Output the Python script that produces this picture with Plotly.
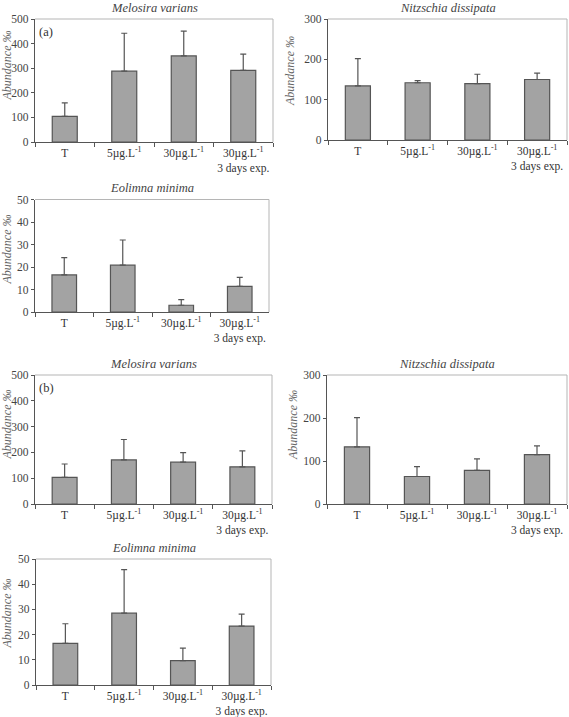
import plotly.graph_objects as go

W, H = 569, 717

categories = ["T", "5µg.L<sup>-1</sup>", "30µg.L<sup>-1</sup>", "30µg.L<sup>-1</sup><br>3 days exp."]

titles = ["Melosira varians", "Nitzschia dissipata", "Eolimna minima",
          "Melosira varians", "Nitzschia dissipata", "Eolimna minima"]
ytitle = "Abundance ‰"

# (a) panels
mel_a = [104, 288, 350, 291]
mel_a_err = [159, 442, 451, 357]
nit_a = [134, 142, 140, 150]
nit_a_err = [202, 147, 163, 166]
eol_a = [16.5, 20.8, 3.0, 11.4]
eol_a_err = [24.2, 32.0, 5.5, 15.4]
# (b) panels
mel_b = [103, 171, 162, 144]
mel_b_err = [155, 250, 199, 206]
nit_b = [133, 64, 78, 115]
nit_b_err = [201, 87, 105, 135]
eol_b = [16.5, 28.5, 9.7, 23.4]
eol_b_err = [24.3, 45.8, 14.6, 28.1]

values = [mel_a, nit_a, eol_a, mel_b, nit_b, eol_b]
tops = [mel_a_err, nit_a_err, eol_a_err, mel_b_err, nit_b_err, eol_b_err]
yranges = [[0, 500], [0, 300], [0, 50], [0, 500], [0, 300], [0, 50]]
ydticks = [100, 100, 10, 100, 100, 10]

# pixel boxes: left, right, top, bottom
boxes = [(35, 273, 19, 142), (328, 567, 19, 140), (35, 269, 199.5, 312),
         (35, 272, 375, 504), (327, 567, 375, 504), (36, 271, 559, 685)]
# y-title centre (x px, y px)
ytitle_pos = [(6.5, 66), (290, 71), (6.5, 250), (6.5, 425), (293, 425), (6.5, 614)]

SERIF = "Liberation Serif"
fig = go.Figure()
shapes = []
annotations = []
for i in range(6):
    n = i + 1
    xa = "x" if n == 1 else f"x{n}"
    ya = "y" if n == 1 else f"y{n}"
    err_plus = [t - v for t, v in zip(tops[i], values[i])]
    fig.add_trace(go.Bar(
        x=categories, y=values[i], xaxis=xa, yaxis=ya, width=0.42,
        marker=dict(color="#a3a3a3", line=dict(color="#555555", width=1.2)),
        error_y=dict(type="data", symmetric=False, array=err_plus,
                     arrayminus=[0] * 4, color="#555555", thickness=1.2, width=3),
        showlegend=False,
    ))
    l, r, t, b = boxes[i]
    xd = [l / W, r / W]
    yd = [1 - b / H, 1 - t / H]
    fig.layout[f"xaxis{n}"] = dict(
        domain=xd, anchor=ya, type="category", tickson="boundaries",
        ticks="outside", ticklen=4, tickcolor="#555555", tickangle=0,
        showline=True, linecolor="#555555", linewidth=1.2,
        showgrid=False, zeroline=False, range=[-0.5, 3.5], automargin=False,
        tickfont=dict(family=SERIF, size=11.5, color="#333333"),
    )
    fig.layout[f"yaxis{n}"] = dict(
        domain=yd, anchor=xa, range=yranges[i], dtick=ydticks[i],
        ticks="outside", ticklen=3, tickcolor="#555555",
        showline=True, linecolor="#555555", linewidth=1.2,
        showgrid=False, zeroline=False, automargin=False,
        tickfont=dict(family=SERIF, size=11.5, color="#444444"),
    )
    # light-gray top and right border
    shapes.append(dict(type="line", xref=f"{xa} domain", yref=f"{ya} domain",
                       x0=0, x1=1, y0=1, y1=1, line=dict(color="#b5b5b5", width=1)))
    shapes.append(dict(type="line", xref=f"{xa} domain", yref=f"{ya} domain",
                       x0=1, x1=1, y0=0, y1=1, line=dict(color="#b5b5b5", width=1)))
    annotations.append(dict(text=f"<i>{titles[i]}</i>", xref=f"{xa} domain", yref=f"{ya} domain",
                            x=0.5, y=1, yshift=2, xanchor="center", yanchor="bottom", showarrow=False,
                            font=dict(family=SERIF, size=12.5, color="#444444")))
    tx, ty = ytitle_pos[i]
    annotations.append(dict(text=f"<i>{ytitle}</i>", xref="paper", yref="paper",
                            x=tx / W, y=1 - ty / H, xanchor="center", yanchor="middle",
                            textangle=-90, showarrow=False,
                            font=dict(family=SERIF, size=12, color="#666666")))

annotations.append(dict(text="(a)", xref="x domain", yref="y domain", x=0.01, y=0.97,
                        xanchor="left", yanchor="top", showarrow=False,
                        font=dict(family=SERIF, size=12.5, color="#333333")))
annotations.append(dict(text="(b)", xref="x4 domain", yref="y4 domain", x=0.01, y=0.97,
                        xanchor="left", yanchor="top", showarrow=False,
                        font=dict(family=SERIF, size=12.5, color="#333333")))

fig.update_layout(
    width=W, height=H, margin=dict(l=0, r=0, t=0, b=0),
    paper_bgcolor="white", plot_bgcolor="white",
    shapes=shapes, annotations=annotations, bargap=0.58,
)
fig.write_html("out.html")
